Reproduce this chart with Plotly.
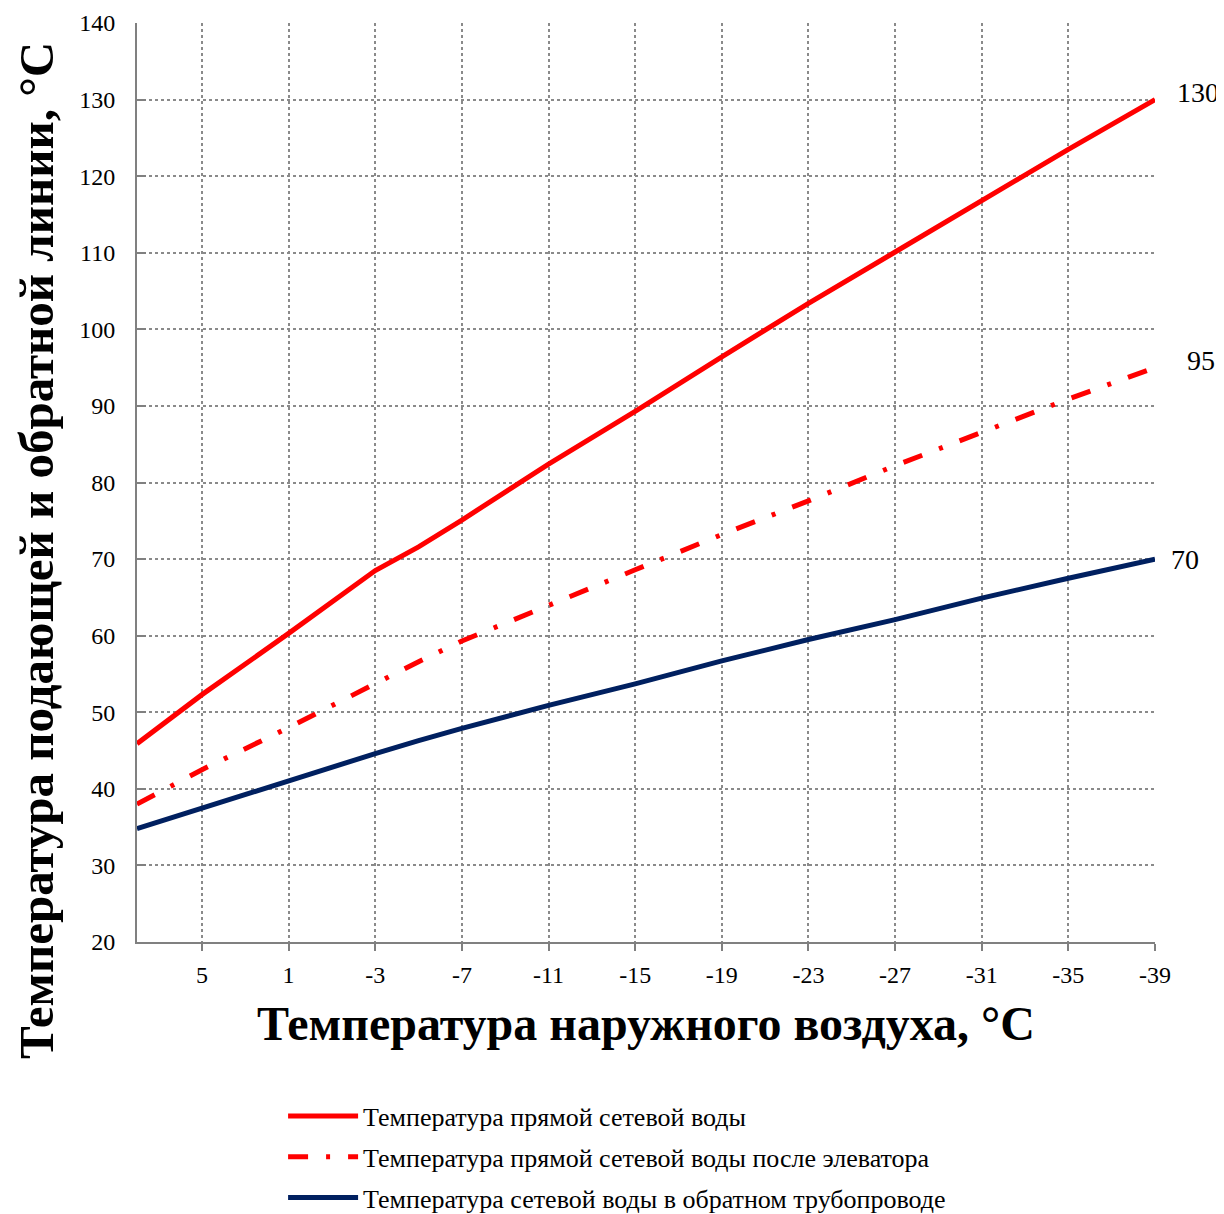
import plotly.graph_objects as go

# Outdoor air temperature, °C
outdoor_t = [8, 5, 1, -3, -5, -7, -11, -15, -19, -23, -27, -31, -35, -39]

# Series values
supply_t = [45.9, 52.3, 60.3, 68.5, 71.6, 75.1, 82.4, 89.3, 96.4, 103.4, 110.1, 116.8, 123.5, 130.0]
after_elevator_t = [38.0, 42.5, 48.0, 53.8, 56.6, 59.3, 64.0, 68.6, 73.2, 77.6, 82.2, 86.5, 90.9, 95.0]
return_t = [34.8, 37.5, 41.0, 44.6, 46.3, 47.9, 50.9, 53.7, 56.7, 59.5, 62.1, 64.9, 67.5, 70.0]

series_names = [
    "Температура прямой сетевой воды",
    "Температура прямой сетевой воды после элеватора",
    "Температура сетевой воды в обратном трубопроводе",
]

x_tick_vals = [5, 1, -3, -7, -11, -15, -19, -23, -27, -31, -35, -39]
x_tick_text = ["5", "1", "-3", "-7", "-11", "-15", "-19", "-23", "-27", "-31", "-35", "-39"]
x_title = "Температура наружного воздуха, °C"
y_title = "Температура подающей и обратной линии, °C"

FONT = "Liberation Serif"
GRID = "#8a8a8a"

fig = go.Figure()
fig.add_trace(go.Scatter(x=outdoor_t, y=supply_t, mode="lines", name=series_names[0],
                         legendgroup="a", line=dict(color="#FF0000", width=5)))
fig.add_trace(go.Scatter(x=outdoor_t, y=after_elevator_t, mode="lines", name=series_names[1],
                         legendgroup="b", line=dict(color="#FF0000", width=5, dash="20px,18px,4px,18px")))
fig.add_trace(go.Scatter(x=outdoor_t, y=return_t, mode="lines", name=series_names[2],
                         legendgroup="c", line=dict(color="#002060", width=5)))

# end-of-line value labels
label_shifts = [(20, 7), (30, 7), (14, 0)]
for ys, (dx, dy) in zip([supply_t, after_elevator_t, return_t], label_shifts):
    fig.add_annotation(x=outdoor_t[-1], y=ys[-1], text=f"{ys[-1]:g}", showarrow=False,
                       xanchor="left", yanchor="middle", xshift=dx, yshift=dy,
                       font=dict(family=FONT, size=28, color="black"))

# y-axis title (longer than the plot, shifted down like the original)
fig.add_annotation(xref="paper", yref="paper", x=0, y=0.4255, xshift=-100,
                   text=f"<b>{y_title}</b>", textangle=-90, showarrow=False,
                   xanchor="center", yanchor="middle",
                   font=dict(family=FONT, size=49, color="black"))

fig.update_layout(
    width=1224, height=1240,
    margin=dict(l=129, r=77, t=15, b=306, autoexpand=False),
    paper_bgcolor="white", plot_bgcolor="white",
    font=dict(family=FONT, size=24, color="black"),
    showlegend=True,
    legend=dict(x=0.1435, y=-0.1638, xanchor="left", yanchor="top",
                orientation="v", tracegroupgap=4, itemwidth=70,
                font=dict(family=FONT, size=26, color="black"),
                bgcolor="rgba(0,0,0,0)"),
)

fig.update_xaxes(
    range=[8, -39], tickmode="array", tickvals=x_tick_vals, ticktext=x_tick_text,
    ticks="outside", ticklen=7, tickwidth=1.5, tickcolor="#808080",
    showline=True, linecolor="#808080", linewidth=2,
    showgrid=True, gridcolor=GRID, griddash="dot", gridwidth=1.5,
    zeroline=False, ticklabelstandoff=3, automargin=False,
    tickfont=dict(family=FONT, size=24, color="black"),
    title=dict(text=f"<b>{x_title}</b>", standoff=20,
               font=dict(family=FONT, size=48, color="black")),
)
fig.update_yaxes(
    range=[20, 140], dtick=10, tick0=20,
    ticks="inside", ticklen=9, tickwidth=1.5, tickcolor="#808080",
    showline=True, linecolor="#808080", linewidth=2,
    showgrid=True, gridcolor=GRID, griddash="dot", gridwidth=1.5,
    zeroline=False, ticklabelstandoff=15, automargin=False,
    tickfont=dict(family=FONT, size=24, color="black"),
)

fig.write_html("out.html")
